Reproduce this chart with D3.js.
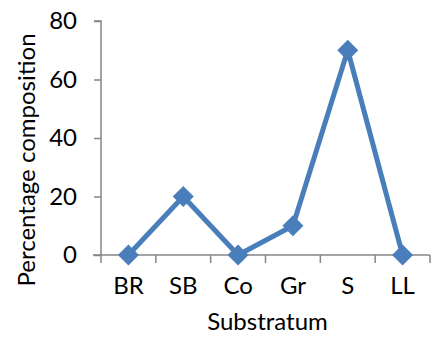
<!DOCTYPE html>
<html><head><meta charset="utf-8">
<script src="https://cdn.jsdelivr.net/npm/d3@7"></script>
<style>html,body{margin:0;padding:0;background:#fff;}svg{display:block;}</style>
</head><body>
<svg id="c" width="435" height="337"></svg>
<script>
const categories = ["BR","SB","Co","Gr","S","LL"];
const values = [0,20,0,10,70,0];
const yTicks = [0,20,40,60,80];
const xTitle = "Substratum";
const yTitle = "Percentage composition";

const svg = d3.select("#c");
const mLeft = 101, mRight = 430, mTop = 21, mBottom = 255;
const font = "Lato, 'Open Sans', sans-serif";
const fs = 24;
const axisColor = "#868686";
const lineColor = "#4A7EBB";

const x = d3.scaleBand().domain(categories).range([mLeft, mRight]).padding(0);
const y = d3.scaleLinear().domain([0, 80]).range([mBottom, mTop]);

// y axis
const ya = svg.append("g").attr("transform", `translate(${mLeft},0)`)
  .call(d3.axisLeft(y).tickValues(yTicks).tickSize(7).tickPadding(17).tickFormat(d3.format("d")));
ya.select(".domain").attr("stroke", axisColor).attr("stroke-width", 1.5).attr("d", `M-7,${mTop}H0V${mBottom}`);
ya.selectAll(".tick line").attr("stroke", axisColor).attr("stroke-width", 1.5);
ya.selectAll(".tick text").attr("font-family", font).attr("font-size", fs).attr("fill", "#000");

// x axis
const xa = svg.append("g").attr("transform", `translate(0,${mBottom})`)
  .call(d3.axisBottom(x).tickSize(0).tickPadding(22));
xa.select(".domain").attr("stroke", axisColor).attr("stroke-width", 1.5).attr("d", `M${mLeft-8},0H${mRight}`);
xa.selectAll(".tick text").attr("font-family", font).attr("font-size", fs).attr("fill", "#000");
// boundary ticks
const bounds = categories.map(c => x(c)).concat([mRight]);
svg.append("g").selectAll("line").data(bounds).join("line")
  .attr("x1", d => d).attr("x2", d => d).attr("y1", mBottom).attr("y2", mBottom + 8)
  .attr("stroke", axisColor).attr("stroke-width", 1.5);

// line
const cx = c => x(c) + x.bandwidth() / 2;
svg.append("path")
  .datum(categories.map((c, i) => [cx(c), y(values[i])]))
  .attr("fill", "none").attr("stroke", lineColor).attr("stroke-width", 5).attr("stroke-linejoin", "round")
  .attr("d", d3.line());

svg.append("g").selectAll("path").data(categories).join("path")
  .attr("transform", (c, i) => `translate(${cx(c)},${y(values[i])})`)
  .attr("d", "M0,-10.5L10.5,0L0,10.5L-10.5,0Z")
  .attr("fill", lineColor);

// titles
svg.append("text").attr("x", (mLeft + mRight) / 2 + 2).attr("y", 330)
  .attr("text-anchor", "middle").attr("font-family", font).attr("font-size", fs).text(xTitle);
svg.append("text").attr("transform", `translate(35,${(mTop + mBottom) / 2 + 22}) rotate(-90)`)
  .attr("text-anchor", "middle").attr("font-family", font).attr("font-size", fs).text(yTitle);
</script>
</body></html>
